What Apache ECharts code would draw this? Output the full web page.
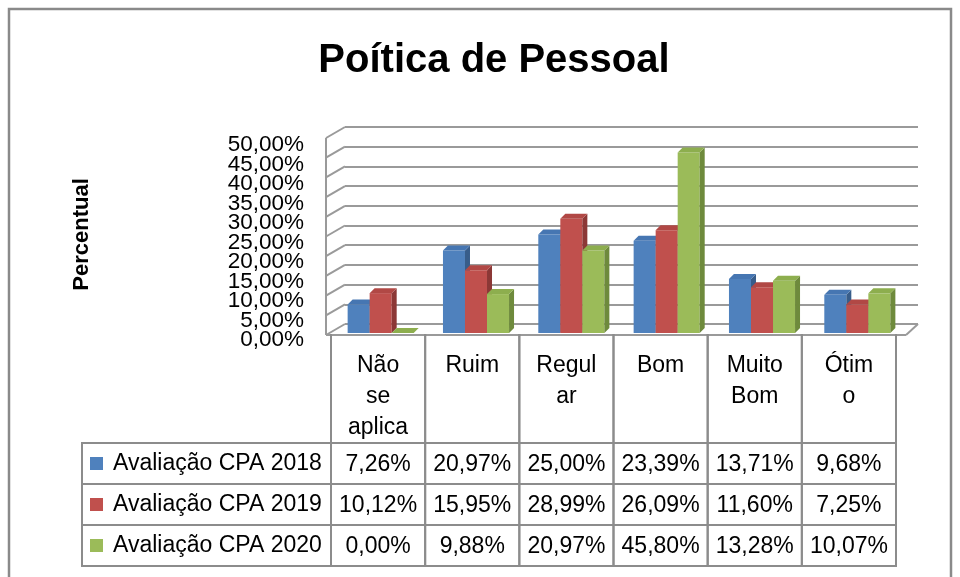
<!DOCTYPE html>
<html>
<head>
<meta charset="utf-8">
<script src="https://cdn.jsdelivr.net/npm/echarts@6/dist/echarts.min.js"></script>
<style>html,body{margin:0;padding:0;background:#fff}#c{width:960px;height:577px}</style>
</head>
<body>
<div id="c"></div>
<script>
// ---- data ----
const categories = ["Não se aplica", "Ruim", "Regular", "Bom", "Muito Bom", "Ótimo"];
const categoryLabels = ["Não\nse\naplica", "Ruim", "Regul\nar", "Bom", "Muito\nBom", "Ótim\no"];
const seriesNames = ["Avaliação CPA 2018", "Avaliação CPA 2019", "Avaliação CPA 2020"];
const cpa2018 = [7.26, 20.97, 25.00, 23.39, 13.71, 9.68];
const cpa2019 = [10.12, 15.95, 28.99, 26.09, 11.60, 7.25];
const cpa2020 = [0.00, 9.88, 20.97, 45.80, 13.28, 10.07];
const yTickValues = [0, 5, 10, 15, 20, 25, 30, 35, 40, 45, 50];
const yTickLabels = ["0,00%", "5,00%", "10,00%", "15,00%", "20,00%", "25,00%", "30,00%", "35,00%", "40,00%", "45,00%", "50,00%"];
const titleText = "Poítica de Pessoal";
const yAxisTitle = "Percentual";

// ---- styles ----
const FONT = "'Liberation Sans', Arial, sans-serif";
const TXT = 23;
const faceColors = ["#4F81BD", "#C0504D", "#9BBB59"];
const topColors = ["#4676B2", "#B14845", "#8DAE4E"];
const sideColors = ["#385D8A", "#8C3836", "#6E8A3C"];
const GRID_COLOR = "#9a9a9a";
const LINE_COLOR = "#8c8c8c";
const DX = 5, DY = 5;           // bar depth
const WALL_DX = -19, WALL_DY = 11; // left wall / floor depth
const FLOOR_FRONT_Y = 334;
const LEGEND_LEFT = 82;

const seriesValues = [cpa2018, cpa2019, cpa2020];
const fmt = v => v.toFixed(2).replace('.', ',') + '%';

const chart = echarts.init(document.getElementById('c'), null, {renderer: 'canvas'});

function barSeries(s) {
  return {
    type: 'custom', name: seriesNames[s], xAxisIndex: 1, yAxisIndex: 1, z: 3 + s,
    data: seriesValues[s].map((v, i) => [i, v]),
    renderItem: function (params, api) {
      const i = api.value(0), v = api.value(1);
      const band = api.size([1, 0])[0];
      const w = band * 0.231;
      const c = api.coord([i, v]);
      const b = api.coord([i, 0]);
      const xl = c[0] - 1.5 * w + s * w, xr = xl + w;
      const yt = c[1], yb = b[1];
      const children = [];
      if (yb - yt > 0.5) {
        children.push({type: 'rect', shape: {x: xl, y: yt, width: w, height: yb - yt}, style: {fill: faceColors[s]}});
        children.push({type: 'polygon', shape: {points: [[xr, yt], [xr + DX, yt - DY], [xr + DX, yb - DY], [xr, yb]]}, style: {fill: sideColors[s]}});
      }
      children.push({type: 'polygon', shape: {points: [[xl, yt], [xr, yt], [xr + DX, yt - DY], [xl + DX, yt - DY]]}, style: {fill: topColors[s]}});
      return {type: 'group', children: children};
    }
  };
}

// table cells
const tableData = [];
for (let r = 0; r < 3; r++) for (let c = 0; c < categories.length; c++) tableData.push([c, r, seriesValues[r][c]]);

const option = {
  animation: false,
  backgroundColor: '#fff',
  title: {
    text: titleText, left: 489, top: 36, textAlign: 'center',
    textStyle: {fontFamily: FONT, fontSize: 40, fontWeight: 'bold', color: '#000', lineHeight: 40}
  },
  graphic: [{
    type: 'rect', shape: {x: 9, y: 9, width: 942, height: 620},
    style: {fill: 'none', stroke: '#8a8a8a', lineWidth: 2.5}, z: 0
  }],
  grid: [
    {left: 345, top: 127, width: 573, height: 197, outerBoundsMode: 'none'},   // back wall
    {left: 333, top: 136, width: 572, height: 197, outerBoundsMode: 'none'},   // bars (front)
    {left: 310, top: 145, width: 10, height: 195, outerBoundsMode: 'none'},    // y tick labels
    {left: 331, top: 200, width: 565, height: 133, outerBoundsMode: 'none'},   // header labels
    {left: 331, top: 443, width: 565, height: 123, outerBoundsMode: 'none'}    // data table
  ],
  xAxis: [
    {gridIndex: 0, type: 'category', data: categories, show: false},
    {gridIndex: 1, type: 'category', data: categories, show: false},
    {gridIndex: 2, type: 'category', data: categories, show: false},
    {gridIndex: 3, type: 'category', data: categoryLabels, position: 'bottom',
      axisLine: {show: false}, axisTick: {show: false}, splitLine: {show: false},
      axisLabel: {interval: 0, margin: 17, fontFamily: FONT, fontSize: TXT, lineHeight: 31, color: '#000'}},
    {gridIndex: 4, type: 'category', data: categories, show: false}
  ],
  yAxis: [
    {gridIndex: 0, type: 'value', min: 0, max: 50, interval: 5,
      axisLine: {show: false}, axisTick: {show: false}, axisLabel: {show: false},
      splitLine: {show: true, lineStyle: {color: GRID_COLOR, width: 2}}},
    {gridIndex: 1, type: 'value', min: 0, max: 50, interval: 5,
      axisLine: {show: false}, axisTick: {show: false}, axisLabel: {show: false}, splitLine: {show: false},
      name: yAxisTitle, nameLocation: 'middle', nameRotate: 90, nameGap: 240,
      nameTextStyle: {fontFamily: FONT, fontSize: 22, fontWeight: 'bold', color: '#000'}},
    {gridIndex: 2, type: 'value', min: 0, max: 50, interval: 5,
      axisLine: {show: false}, axisTick: {show: false}, splitLine: {show: false}, axisLabel: {show: false}},
    {gridIndex: 3, type: 'value', show: false},
    {gridIndex: 4, type: 'category', data: seriesNames, inverse: true,
      axisLine: {show: false}, axisTick: {show: false}, splitLine: {show: false},
      axisLabel: {interval: 0, align: 'left', margin: 241,
        formatter: (v, idx) => '{s' + idx + '|}{sp|}{t|' + v + '}',
        rich: {
          s0: {width: 13, height: 13, backgroundColor: faceColors[0]},
          s1: {width: 13, height: 13, backgroundColor: faceColors[1]},
          s2: {width: 13, height: 13, backgroundColor: faceColors[2]},
          sp: {width: 10},
          t: {fontFamily: FONT, fontSize: TXT, color: '#000'}
        }}}
  ],
  series: [
    {
      type: 'custom', xAxisIndex: 0, yAxisIndex: 0, z: 1,
      data: yTickValues.map(v => [0, v]),
      renderItem: function (params, api) {
        const cs = params.coordSys;
        const p = api.coord([0, api.value(1)]);
        const y = p[1];
        const ls = {stroke: GRID_COLOR, lineWidth: 2};
        const children = [{type: 'line', shape: {x1: cs.x, y1: y, x2: cs.x + WALL_DX, y2: y + WALL_DY}, style: ls}];
        if (params.dataIndex === 0) {
          const xr = cs.x + cs.width;
          children.push({type: 'line', shape: {x1: cs.x + WALL_DX, y1: cs.y + WALL_DY, x2: cs.x + WALL_DX, y2: y + WALL_DY}, style: ls});
          children.push({type: 'line', shape: {x1: cs.x + WALL_DX, y1: y + WALL_DY, x2: xr + WALL_DX * 0.63, y2: y + WALL_DY}, style: ls});
          children.push({type: 'line', shape: {x1: xr, y1: y, x2: xr + WALL_DX * 0.63, y2: y + WALL_DY}, style: ls});
        }
        return {type: 'group', children: children};
      }
    },
    {
      // y tick labels, placed through the label grid's value axis
      type: 'custom', xAxisIndex: 2, yAxisIndex: 2, z: 2,
      data: yTickValues.map((v, i) => [0, v, i]),
      renderItem: function (params, api) {
        const cs = params.coordSys;
        const p = api.coord([0, api.value(1)]);
        return {type: 'text', style: {text: yTickLabels[api.value(2)], x: cs.x - 6, y: p[1],
          align: 'right', verticalAlign: 'middle', fontFamily: FONT, fontSize: 22.5, fill: '#000'}};
      }
    },
    barSeries(0), barSeries(1), barSeries(2),
    {
      type: 'custom', xAxisIndex: 4, yAxisIndex: 4, z: 2,
      data: tableData,
      renderItem: function (params, api) {
        const c = api.value(0), r = api.value(1), v = api.value(2);
        const sz = api.size([1, 1]);
        const ctr = api.coord([c, r]);
        const x0 = ctr[0] - sz[0] / 2, y0 = ctr[1] - sz[1] / 2;
        const ls = {fill: 'none', stroke: LINE_COLOR, lineWidth: 2};
        const children = [
          {type: 'rect', shape: {x: x0, y: y0, width: sz[0], height: sz[1]}, style: ls},
          {type: 'text', style: {text: fmt(v), x: ctr[0], y: ctr[1] + 1, align: 'center', verticalAlign: 'middle',
            fontFamily: FONT, fontSize: TXT, fill: '#000'}}
        ];
        if (c === 0) {
          children.push({type: 'rect', shape: {x: LEGEND_LEFT, y: y0, width: x0 - LEGEND_LEFT, height: sz[1]}, style: ls});
        }
        if (r === 0) {
          children.push({type: 'line', shape: {x1: x0, y1: FLOOR_FRONT_Y, x2: x0, y2: y0}, style: ls});
          children.push({type: 'line', shape: {x1: x0 + sz[0], y1: FLOOR_FRONT_Y, x2: x0 + sz[0], y2: y0}, style: ls});
        }
        return {type: 'group', children: children};
      }
    }
  ]
};
chart.setOption(option);
</script>
</body>
</html>
